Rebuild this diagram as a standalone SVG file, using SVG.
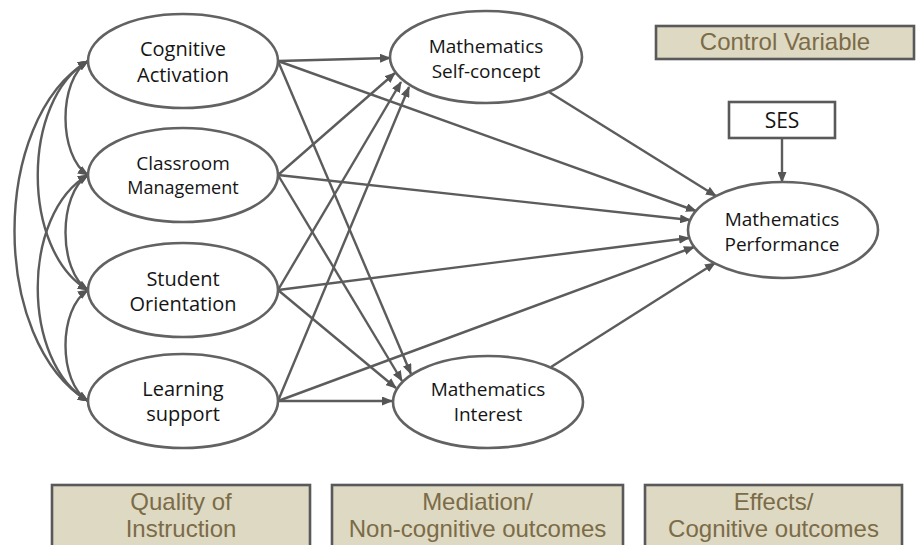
<svg xmlns="http://www.w3.org/2000/svg" width="917" height="545" viewBox="0 0 917 545">
<style>
.node ellipse{fill:#fff;stroke:#626262;stroke-width:2.6}
.t{font-family:"Open Sans","Noto Sans","Liberation Sans",sans-serif;fill:#151515;text-anchor:middle}
.lab rect{fill:#ddd9c3;stroke:#595959;stroke-width:2.6}
.lt{font-family:"Liberation Sans",Arial,sans-serif;fill:#7c6b47;text-anchor:middle;font-size:24px}
.ses rect{fill:#fff;stroke:#595959;stroke-width:2.6}
#connectors path,#connectors line{fill:none;stroke:#5c5c5c;stroke-width:2.4}
.a{marker-end:url(#ah)}
.d{marker-start:url(#ah);marker-end:url(#ah)}
</style>
<defs>
<marker id="ah" markerUnits="userSpaceOnUse" markerWidth="11" markerHeight="9" refX="10" refY="4.5" orient="auto-start-reverse">
<path d="M0,0 L11,4.5 L0,9 z" fill="#555"/>
</marker>
</defs>
<rect width="917" height="545" fill="#fff"/>

<g id="connectors">
<path class="d" d="M88,61 C58,80 58,156 88,175"/>
<path class="d" d="M88,175 C58,194 58,271 88,290"/>
<path class="d" d="M88,290 C58,309 58,382 88,401"/>
<path class="d" d="M88,61 C21,100 21,251 88,290"/>
<path class="d" d="M88,175 C21,214 21,362 88,401"/>
<path class="d" d="M88,61 C-10,120 -10,342 88,401"/>
<line class="a" x1="278" y1="61" x2="390" y2="58"/>
<line class="a" x1="278" y1="175" x2="395" y2="73"/>
<line class="a" x1="278" y1="290" x2="401" y2="82"/>
<line class="a" x1="278" y1="401" x2="409" y2="87"/>
<line class="a" x1="278" y1="61" x2="411" y2="374"/>
<line class="a" x1="278" y1="175" x2="402" y2="381"/>
<line class="a" x1="278" y1="290" x2="396" y2="388"/>
<line class="a" x1="278" y1="401" x2="392" y2="401"/>
<line class="a" x1="278" y1="61" x2="696" y2="211"/>
<line class="a" x1="278" y1="175" x2="690" y2="220"/>
<line class="a" x1="278" y1="290" x2="689" y2="238"/>
<line class="a" x1="278" y1="401" x2="694" y2="247"/>
<line class="a" x1="549" y1="92" x2="716" y2="196"/>
<line class="a" x1="551" y1="367" x2="715" y2="263"/>
<line class="a" x1="782" y1="138" x2="782" y2="182"/>
</g>

<g id="cognitive-activation" class="node">
<ellipse cx="183" cy="61" rx="95" ry="47"/>
<text class="t" x="183" y="56" font-size="20">Cognitive<tspan x="183" dy="26">Activation</tspan></text>
</g>
<g id="classroom-management" class="node">
<ellipse cx="183" cy="175" rx="95" ry="47"/>
<text class="t" x="183" y="170" font-size="19">Classroom<tspan x="183" dy="24" font-size="18">Management</tspan></text>
</g>
<g id="student-orientation" class="node">
<ellipse cx="183" cy="290" rx="95" ry="47"/>
<text class="t" x="183" y="286" font-size="20">Student<tspan x="183" dy="25">Orientation</tspan></text>
</g>
<g id="learning-support" class="node">
<ellipse cx="183" cy="401" rx="95" ry="47"/>
<text class="t" x="183" y="396" font-size="20">Learning<tspan x="183" dy="25">support</tspan></text>
</g>
<g id="self-concept" class="node">
<ellipse cx="486" cy="57" rx="96" ry="46"/>
<text class="t" x="486" y="53" font-size="19">Mathematics<tspan x="486" dy="25">Self-concept</tspan></text>
</g>
<g id="interest" class="node">
<ellipse cx="488" cy="402" rx="95" ry="46"/>
<text class="t" x="488" y="396" font-size="19">Mathematics<tspan x="488" dy="25">Interest</tspan></text>
</g>
<g id="performance" class="node">
<ellipse cx="783" cy="230" rx="95" ry="48"/>
<text class="t" x="782" y="226" font-size="19">Mathematics<tspan x="782" dy="25">Performance</tspan></text>
</g>
<g id="ses" class="ses">
<rect x="729" y="102" width="106" height="36"/>
<text class="t" x="782" y="128" font-size="21">SES</text>
</g>

<g id="control-variable" class="lab">
<rect x="656" y="26" width="258" height="33"/>
<text class="lt" x="785" y="50" font-size="23">Control Variable</text>
</g>
<g id="quality" class="lab">
<rect x="52" y="485" width="258" height="70"/>
<text class="lt" x="181" y="510">Quality of<tspan x="181" dy="27">Instruction</tspan></text>
</g>
<g id="mediation" class="lab">
<rect x="332" y="485" width="291" height="70"/>
<text class="lt" x="477.5" y="510">Mediation/<tspan x="477.5" dy="27">Non-cognitive outcomes</tspan></text>
</g>
<g id="effects" class="lab">
<rect x="645" y="485" width="257" height="70"/>
<text class="lt" x="773.5" y="510">Effects/<tspan x="773.5" dy="27">Cognitive outcomes</tspan></text>
</g>
</svg>
